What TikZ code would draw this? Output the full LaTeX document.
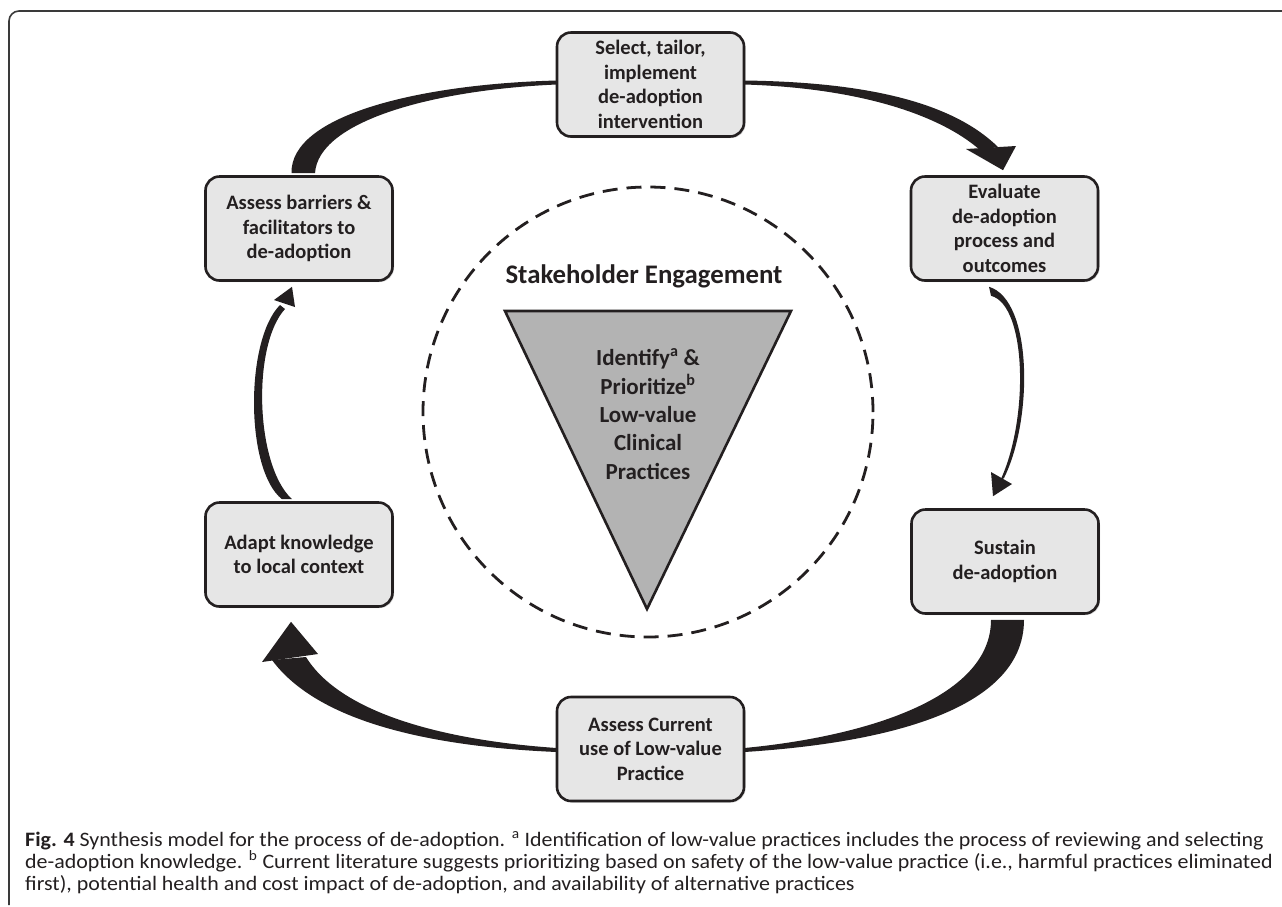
\documentclass[tikz,border=0pt]{standalone}
\usepackage{fontspec}
\setmainfont{Carlito}
\newfontfamily\capfont[FakeStretch=1.07]{Carlito}
\usetikzlibrary{shadows,calc}
\definecolor{boxfill}{HTML}{E6E6E6}
\definecolor{trifill}{HTML}{B3B3B3}
\definecolor{ink}{HTML}{231F20}
\definecolor{framec}{HTML}{3A3A3A}
\begin{document}
\begin{tikzpicture}[x=1pt,y=-1pt,
  procbox/.style={draw=ink, line width=2.6pt, fill=boxfill, rounded corners=14pt,
    minimum width=187pt, minimum height=104pt, inner sep=2pt, align=center,
    font=\bfseries\fontsize{20.5}{24.5}\selectfont, text=ink,
    drop shadow={shadow xshift=1.5pt, shadow yshift=-1.5pt, opacity=0.35}},
  swoosh/.style={fill=ink, draw=none},
  captext/.style={anchor=base west, inner sep=0pt, text=ink, font=\capfont\fontsize{20.5}{22}\selectfont}]
\useasboundingbox (0,0) rectangle (1282,906);
% frame
\draw[line width=1.6pt, framec, rounded corners=10pt] (1282,11) -- (9,11) -- (9,905);
% dashed circle
\node[circle, draw=ink, line width=2.8pt, dash pattern=on 15pt off 9pt, minimum size=450pt, inner sep=0pt] (circ) at (648,412) {};
\node[font=\bfseries\fontsize{26.8}{30}\selectfont, text=ink] (stk) at (644,276) {Stakeholder Engagement};
% triangle
\draw[fill=trifill, draw=ink, line width=2.6pt, line join=miter] (505,311) -- (791,311) -- (647,609) -- cycle;
\node[align=center, font=\bfseries\fontsize{23}{28.3}\selectfont, text=ink] (tri) at (648,414) {Identify\textsuperscript{a} \&\\Prioritize\textsuperscript{b}\\Low-value\\Clinical\\Practices};
% boxes
\node[procbox] (sel) at (650.5,84.5) {Select, tailor,\\implement\\de-adoption\\intervention};
\node[procbox] (bar) at (299,228.5) {Assess barriers \&\\facilitators to\\de-adoption};
\node[procbox] (eva) at (1004.5,228.5) {Evaluate\\de-adoption\\process and\\outcomes};
\node[procbox] (ada) at (299,554.5) {Adapt knowledge\\to local context};
\node[procbox] (sus) at (1005,561.5) {Sustain\\de-adoption};
\node[procbox] (cur) at (650.5,749) {Assess Current\\use of Low-value\\Practice};
% arrows
% bar -> sel
\fill[swoosh] ($(bar.north)+(-7.5,-2)$) .. controls (290,115) and (420,84) .. ($(sel.west)+(1,-4)$)
  -- ($(sel.west)+(1,0)$) .. controls (430,90) and (318,122) .. ($(bar.north)+(16,-2)$) -- cycle;
% sel -> eva
\fill[swoosh] ($(sel.east)+(-1,-4)$) .. controls (860,82) and (950,100) .. (998,147)
  -- (980,150) .. controls (940,115) and (860,88) .. ($(sel.east)+(-1,0)$) -- cycle;
\fill[swoosh] (966,149) -- (1016,146) -- ($(eva.north)+(-1.5,-5)$) -- cycle;
% eva -> sus
\fill[swoosh] ($(eva.south)+(-15.5,5)$) .. controls (1033,300) and (1033,420) .. (1004,478)
  -- (1000,481) .. controls (1029,420) and (1027,305) .. ($(eva.south)+(-13.5,14)$) -- cycle;
\fill[swoosh] (991,472) -- (1012,484) -- ($(sus.north)+(-12,-12)$) -- cycle;
% sus -> cur
\fill[swoosh] ($(sus.south)+(-14,5)$) .. controls (991,700) and (860,737) .. ($(cur.east)+(-1,-1)$)
  -- ($(cur.east)+(-1,3)$) .. controls (870,744) and (1024,715) .. ($(sus.south)+(19,5)$) -- cycle;
% cur -> ada
\fill[swoosh] ($(cur.west)+(1,-1)$) .. controls (440,740) and (340,712) .. (306,657)
  -- (272,660) .. controls (320,725) and (440,747) .. ($(cur.west)+(1,3)$) -- cycle;
\fill[swoosh] (262,662) -- (318,654) -- ($(ada.south)+(-8,14)$) -- cycle;
% ada -> bar
\fill[swoosh] ($(ada.north)+(-17,-2)$) .. controls (245,470) and (245,340) .. (280,305)
  -- (285,309) .. controls (252,345) and (255,465) .. ($(ada.north)+(-7,-2)$) -- cycle;
\fill[swoosh] (274,300) -- (295,307) -- ($(bar.south)+(-7,5)$) -- cycle;
% caption
\node[captext] (cap1) at (25,846) {\textbf{Fig. 4} Synthesis model for the process of de-adoption. \textsuperscript{a} Identification of low-value practices includes the process of reviewing and selecting};
\node[captext] (cap2) at (25,868) {de-adoption knowledge. \textsuperscript{b} Current literature suggests prioritizing based on safety of the low-value practice (i.e., harmful practices eliminated};
\node[captext] (cap3) at (25,890) {first), potential health and cost impact of de-adoption, and availability of alternative practices};
\end{tikzpicture}
\end{document}
